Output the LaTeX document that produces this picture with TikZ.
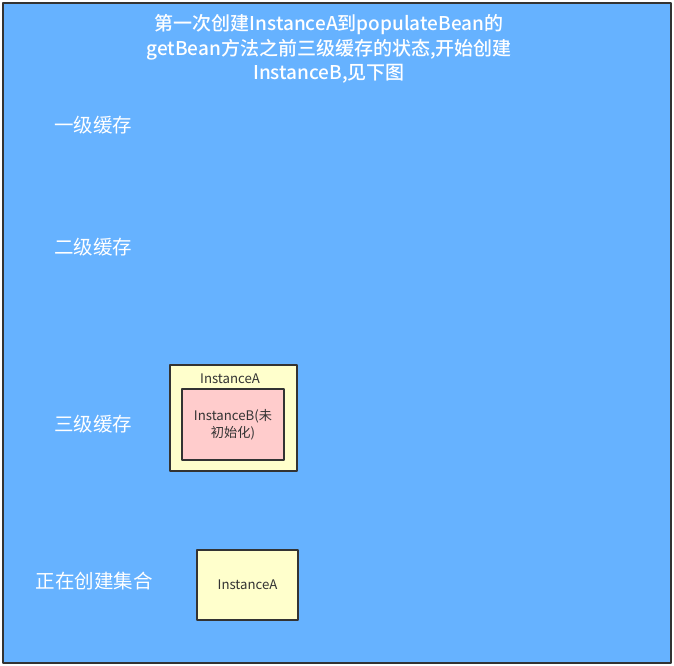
\documentclass[tikz,border=0pt]{standalone}
\usepackage{fontspec}
\setmainfont{Noto Sans CJK SC}
\newfontfamily\titlefont{Noto Sans CJK SC Medium}
\usepackage{tikz}
\usetikzlibrary{positioning}
\definecolor{bgblue}{HTML}{66B2FF}
\definecolor{boxyellow}{HTML}{FFFFCC}
\definecolor{boxpink}{HTML}{FFCCCC}
\definecolor{edgegray}{HTML}{333333}

\begin{document}
\begin{tikzpicture}[line cap=round,line join=round,x=1pt,y=-1pt, cache/.style={text=white, font=\fontsize{19.5}{22}\selectfont}, obj/.style={draw=edgegray, line width=1.6pt, fill=boxyellow, inner sep=0pt}, objtext/.style={text=edgegray, font=\fontsize{13.2}{16}\selectfont, inner sep=0pt}]
                    \useasboundingbox (0,0) rectangle (674,665);
                    \draw [draw=edgegray, line width=1.5pt, fill=bgblue] (3,3) rectangle (671,663);

                    \node [text=white, align=center, font=\titlefont\fontsize{19}{24.5}\selectfont] (title) at (329,49) {第一次创建InstanceA到populateBean的\\getBean方法之前三级缓存的状态,开始创建\\InstanceB,见下图};

                    \node [cache] (first) at (93,125) {一级缓存};
                    \node [cache] (second) at (93,247) {二级缓存};
                    \node [cache] (third) at (93,424) {三级缓存};
                    \node [cache] (creating) at (94,581) {正在创建集合};

                    \node [obj, minimum width=127, minimum height=106] (instA) at (233.5,418) {};
                    \node [objtext] (instAname) at (230,379) {InstanceA};
                    \node [obj, fill=boxpink, minimum width=102, minimum height=71, align=center, text=edgegray, font=\fontsize{13.2}{17.5}\selectfont] (instB) at (233,424.5) {InstanceB(未\\初始化)};

                    \node [obj, minimum width=101, minimum height=70] (setA) at (247.5,585) {};
                    \node [objtext] (setAname) at (setA) {InstanceA};
                \end{tikzpicture}
\end{document}
